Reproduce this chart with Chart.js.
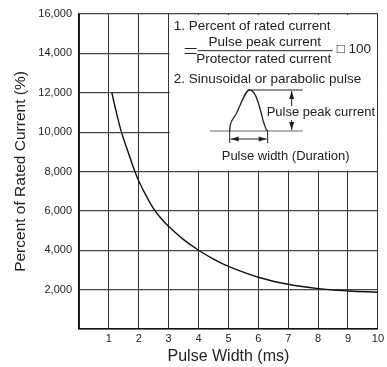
<!DOCTYPE html>
<html>
<head>
<meta charset="utf-8">
<script src="https://cdn.jsdelivr.net/npm/chart.js@4/dist/chart.umd.min.js"></script>
<style>
  html, body { margin: 0; padding: 0; background: #fff; }
  #wrap { width: 387px; height: 367px; }
</style>
</head>
<body>
<div id="wrap"><canvas id="chart" width="387" height="367"></canvas></div>
<script>
// Pulse width (ms) vs percent of rated current
const pulseWidth = [1.1, 1.25, 1.42, 1.64, 1.87, 2, 2.25, 2.5, 2.75, 3, 3.5, 4, 4.5, 5, 6, 7, 8, 9, 10];
const ratedPct   = [12000, 11000, 10000, 9000, 8000, 7520, 6760, 6100, 5610, 5210, 4540, 4000, 3550, 3180, 2630, 2270, 2050, 1930, 1870];

const xTicks = [0, 1, 2, 3, 4, 5, 6, 7, 8, 9, 10];
const yTicks = [0, 2000, 4000, 6000, 8000, 10000, 12000, 14000, 16000];

const FONT = '"Liberation Sans", Arial, Helvetica, sans-serif';
const INK  = '#222';

function arrowHead(ctx, x, y, dir, len = 6, half = 2.5) {
  // dir: 'up' | 'down' | 'left' | 'right' ; (x,y) is the tip
  ctx.beginPath();
  ctx.moveTo(x, y);
  if (dir === 'up')    { ctx.lineTo(x - half, y + len); ctx.lineTo(x + half, y + len); }
  if (dir === 'down')  { ctx.lineTo(x - half, y - len); ctx.lineTo(x + half, y - len); }
  if (dir === 'left')  { ctx.lineTo(x + len, y - half); ctx.lineTo(x + len, y + half); }
  if (dir === 'right') { ctx.lineTo(x - len, y - half); ctx.lineTo(x - len, y + half); }
  ctx.closePath();
  ctx.fill();
}

// white note box in the upper right, with formula and pulse sketch
const notePlugin = {
  id: 'note',
  afterDraw(chart) {
    const { ctx, scales: { x, y } } = chart;
    const bx = x.getPixelForValue(3);
    const by = y.getPixelForValue(16000);
    const bw = x.getPixelForValue(10) - bx;
    const bh = y.getPixelForValue(8000) - by;

    ctx.save();
    ctx.fillStyle = '#fff';
    ctx.fillRect(bx + 1, by + 1, bw - 2, bh - 2);

    ctx.fillStyle = INK;
    ctx.strokeStyle = INK;
    ctx.font = '13.5px ' + FONT;
    ctx.textBaseline = 'alphabetic';
    ctx.textAlign = 'left';
    ctx.fillText('1. Percent of rated current', bx + 5, by + 15.7);

    // = fraction x 100
    ctx.lineWidth = 1;
    ctx.beginPath();
    ctx.moveTo(bx + 16, by + 34.5); ctx.lineTo(bx + 28, by + 34.5);
    ctx.moveTo(bx + 16, by + 39.5); ctx.lineTo(bx + 28, by + 39.5);
    ctx.moveTo(bx + 29, by + 36.7); ctx.lineTo(bx + 164, by + 36.7);
    ctx.stroke();
    ctx.textAlign = 'center';
    ctx.fillText('Pulse peak current', bx + 96, by + 31.7);
    ctx.fillText('Protector rated current', bx + 95, by + 49.3);
    ctx.textAlign = 'left';
    ctx.fillText('\u25A1 100', bx + 168, by + 39.3);

    ctx.fillText('2. Sinusoidal or parabolic pulse', bx + 5, by + 69);

    // pulse sketch
    ctx.lineWidth = 1;
    ctx.strokeStyle = '#666';
    ctx.beginPath();
    ctx.moveTo(bx + 41, by + 117); ctx.lineTo(bx + 134, by + 117);
    ctx.stroke();
    ctx.strokeStyle = INK;
    ctx.beginPath();
    ctx.moveTo(bx + 79, by + 76); ctx.lineTo(bx + 134, by + 76);
    ctx.stroke();

    ctx.lineWidth = 1.3;
    ctx.beginPath();
    ctx.moveTo(bx + 61, by + 117);
    ctx.bezierCurveTo(bx + 61, by + 106, bx + 65, by + 105, bx + 68, by + 99);
    ctx.bezierCurveTo(bx + 74, by + 86, bx + 77, by + 76, bx + 81, by + 76);
    ctx.bezierCurveTo(bx + 86, by + 76, bx + 89, by + 86, bx + 92, by + 97);
    ctx.bezierCurveTo(bx + 95, by + 108, bx + 96, by + 115, bx + 99, by + 117);
    ctx.stroke();

    // width markers
    ctx.lineWidth = 1;
    ctx.beginPath();
    ctx.moveTo(bx + 61, by + 117); ctx.lineTo(bx + 61, by + 129);
    ctx.moveTo(bx + 99, by + 117); ctx.lineTo(bx + 99, by + 129);
    ctx.moveTo(bx + 62, by + 125); ctx.lineTo(bx + 98, by + 125);
    ctx.stroke();
    arrowHead(ctx, bx + 62, by + 125, 'left', 8, 2.5);
    arrowHead(ctx, bx + 98, by + 125, 'right', 8, 2.5);

    // peak height arrow
    ctx.beginPath();
    ctx.moveTo(bx + 123, by + 77); ctx.lineTo(bx + 123, by + 116);
    ctx.stroke();
    arrowHead(ctx, bx + 123, by + 77, 'up', 8, 2.5);
    arrowHead(ctx, bx + 123, by + 116, 'down', 8, 2.5);

    ctx.font = '13px ' + FONT;
    const lbl = 'Pulse peak current';
    const lw = ctx.measureText(lbl).width;
    ctx.fillStyle = '#fff';
    ctx.fillRect(bx + 98, by + 92, lw + 1, 14);
    ctx.fillStyle = INK;
    ctx.fillText(lbl, bx + 98, by + 102);

    ctx.textAlign = 'center';
    ctx.fillText('Pulse width (Duration)', bx + 117, by + 146);
    ctx.restore();
  }
};

new Chart(document.getElementById('chart'), {
  type: 'scatter',
  data: {
    datasets: [{
      data: pulseWidth.map((v, i) => ({ x: v, y: ratedPct[i] })),
      showLine: true,
      borderColor: '#111',
      borderWidth: 1.4,
      pointRadius: 0,
      tension: 0.4
    }]
  },
  options: {
    responsive: false,
    animation: false,
    layout: { padding: { top: 14, right: 4, bottom: 0, left: 0 } },
    plugins: { legend: { display: false }, tooltip: { enabled: false } },
    scales: {
      x: {
        type: 'linear', min: 0, max: 10,
        afterBuildTicks: s => { s.ticks = xTicks.map(v => ({ value: v })); },
        afterFit: s => { s.height = 38; },
        ticks: {
          padding: 3, color: INK, font: { family: FONT, size: 11 },
          callback: v => (v === 0 ? '' : String(v))
        },
        grid: { color: '#333', lineWidth: 1, drawTicks: false },
        border: { color: '#111', width: 1.5 },
        title: {
          display: true, text: 'Pulse Width (ms)', color: INK,
          font: { family: FONT, size: 16 }, padding: { top: 0, bottom: 1 }
        }
      },
      y: {
        type: 'linear', min: 0, max: 16000,
        afterBuildTicks: s => { s.ticks = yTicks.map(v => ({ value: v })); },
        afterFit: s => { s.width = 79; },
        ticks: {
          padding: 7, color: INK, font: { family: FONT, size: 11 },
          callback: v => (v === 0 ? '' : v.toLocaleString('en-US'))
        },
        grid: { color: '#444', lineWidth: 1.2, drawTicks: false },
        border: { color: '#111', width: 1.5 },
        title: {
          display: true, text: 'Percent of Rated Current (%)', color: INK,
          font: { family: FONT, size: 15.5 }, padding: { top: 11.5, bottom: 0 }
        }
      }
    }
  },
  plugins: [notePlugin]
});
</script>
</body>
</html>
